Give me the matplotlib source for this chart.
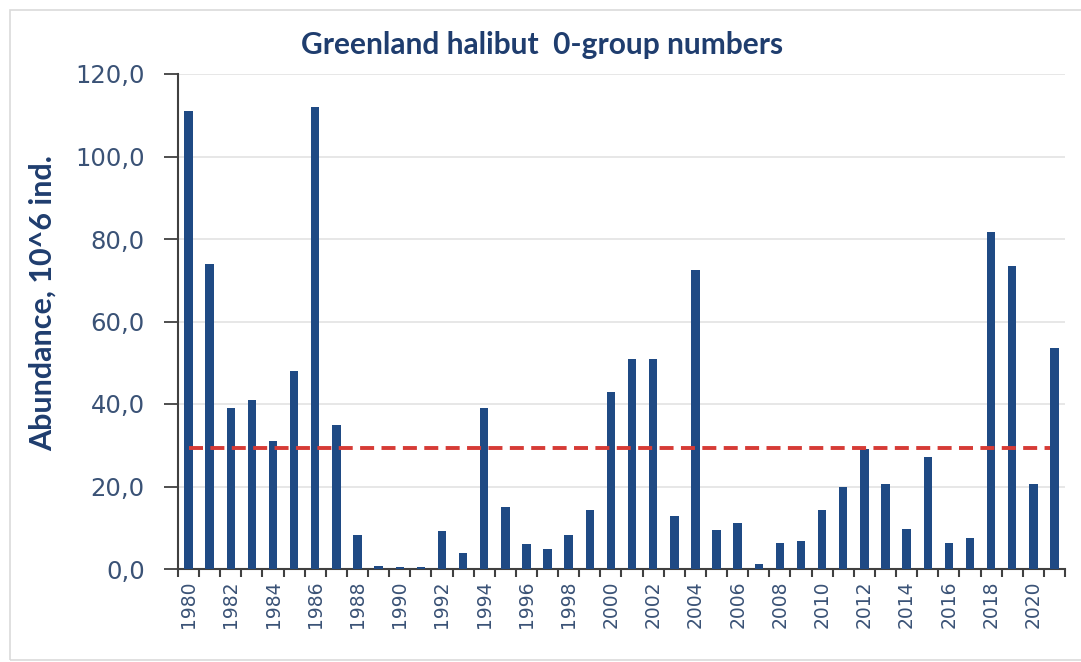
import matplotlib
matplotlib.use("Agg")
import matplotlib.pyplot as plt
from matplotlib.patches import Rectangle
import numpy as np

years = list(range(1980, 2022))
abundance = [111.0, 74.0, 39.0, 40.9, 31.0, 47.9, 111.9, 34.8, 8.2, 0.8,
             0.6, 0.6, 9.1, 4.0, 39.0, 15.1, 6.0, 4.9, 8.2, 14.2,
             42.8, 51.0, 51.0, 12.8, 72.4, 9.5, 11.1, 1.1, 6.4, 6.7,
             14.2, 20.0, 29.1, 20.5, 9.7, 27.1, 6.4, 7.5, 81.7, 73.5,
             20.5, 53.6]
mean_level = 29.3
mean_years = list(range(1980, 2021))
yticks = [0, 20, 40, 60, 80, 100, 120]
ytick_labels = ["0,0", "20,0", "40,0", "60,0", "80,0", "100,0", "120,0"]
xtick_years = list(range(1980, 2022, 2))
title = "Greenland halibut  0-group numbers"
ylabel = "Abundance, 10^6 ind."

bar_color = "#1F4A84"
text_color = "#1F3D6E"
tick_color = "#3A5276"

fig = plt.figure(figsize=(10.81, 6.62), dpi=100)
ax = fig.add_axes([178/1081, 1-569/662, (1065-178)/1081, (569-74)/662])

ax.bar(years, abundance, width=0.4, color=bar_color, zorder=3)
ax.plot([mean_years[0], mean_years[-1] + 0.8], [mean_level, mean_level],
        color="#D63B36", linewidth=2.8, dashes=(3.6, 1.9), zorder=4)

ax.set_xlim(1979.5, 2021.5)
ax.set_ylim(0, 120)
ax.set_yticks(yticks)
ax.set_yticklabels(ytick_labels, fontsize=17.5, color=tick_color, family="DejaVu Sans")
ax.yaxis.grid(True, color="#E3E3E3", linewidth=1.2, zorder=0)

ax.set_xticks(xtick_years)
ax.set_xticklabels([str(y) for y in xtick_years], rotation=90, fontsize=13.5,
                   color=tick_color, family="DejaVu Sans")
ax.tick_params(axis="x", which="major", length=0, pad=8)
ax.set_xticks(np.arange(1979.5, 2022.0, 1.0), minor=True)
ax.tick_params(axis="x", which="minor", length=6, width=1.5, color="#404040", direction="out")
ax.tick_params(axis="y", length=10, width=1.3, color="#404040", pad=14)

for s in ["top", "right"]:
    ax.spines[s].set_visible(False)
ax.spines["left"].set_color("#404040")
ax.spines["left"].set_linewidth(1.5)
ax.spines["bottom"].set_color("#404040")
ax.spines["bottom"].set_linewidth(1.5)

fig.text(542/1081, 1-45/662, title, ha="center", va="center", fontsize=21.5,
         fontweight="bold", color=text_color, family="Lato")
fig.text(43/1081, 1-303/662, ylabel, ha="center", va="center", rotation=90,
         fontsize=22, fontweight="bold", color=text_color, family="Lato")

fig.patches.append(Rectangle((10/1081, 2/662), 1.0, 650/662, transform=fig.transFigure,
                             fill=False, edgecolor="#DADADA", linewidth=1.2))

fig.savefig("out.png", dpi=100)
